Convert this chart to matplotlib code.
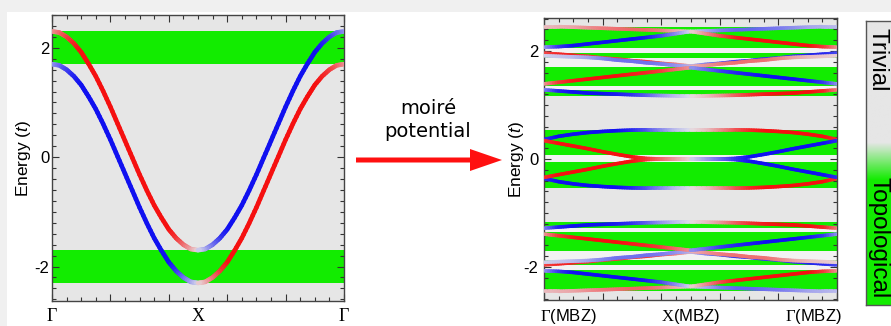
import numpy as np
import matplotlib
matplotlib.use("Agg")
import matplotlib.pyplot as plt
from matplotlib.collections import LineCollection
from matplotlib.colors import LinearSegmentedColormap, to_rgb
from matplotlib.patches import Rectangle, FancyArrow
from matplotlib.ticker import MultipleLocator, FixedLocator

plt.rcParams['font.family'] = ['Liberation Sans', 'DejaVu Sans']
plt.rcParams['mathtext.fontset'] = 'custom'
plt.rcParams['mathtext.rm'] = 'Liberation Serif'
plt.rcParams['mathtext.it'] = 'Liberation Sans:italic'
plt.rcParams['axes.unicode_minus'] = False

# =========================
# DATA
# =========================
# left panel: half path Gamma -> X (0 .. 0.5), 21 samples
k_half = np.linspace(0, 0.5, 21)
band_upper = [2.30, 2.28, 2.20, 2.08, 1.92, 1.71, 1.48, 1.21, 0.92, 0.61, 0.30,
              -0.01, -0.32, -0.61, -0.88, -1.11, -1.32, -1.48, -1.60, -1.68, -1.70]
band_lower = [1.70, 1.68, 1.60, 1.48, 1.32, 1.11, 0.88, 0.61, 0.32, 0.01, -0.30,
              -0.61, -0.92, -1.21, -1.48, -1.71, -1.92, -2.08, -2.20, -2.28, -2.30]
spin_weight = [0.35, 0.55, 0.75, 0.9, 1, 1, 1, 1, 1, 1, 1,
               1, 1, 1, 1, 1, 1, 0.85, 0.6, 0.35, 0.1]
topo_left = [(1.7, 2.3), (-2.3, -1.7)]

# right panel: half path Gamma(MBZ) -> X(MBZ), 11 samples
k_mbz = np.linspace(0, 0.5, 11)
mbz_a = [2.45, 2.45, 2.44, 2.43, 2.42, 2.41, 2.40, 2.39, 2.38, 2.37, 2.36]
mbz_b = [2.07, 2.08, 2.10, 2.13, 2.16, 2.19, 2.22, 2.25, 2.28, 2.32, 2.36]
mbz_c = [1.96, 1.94, 1.92, 1.90, 1.87, 1.85, 1.82, 1.80, 1.77, 1.75, 1.72]
mbz_d = [1.91, 1.90, 1.89, 1.88, 1.86, 1.83, 1.81, 1.78, 1.76, 1.73, 1.71]
mbz_e = [1.39, 1.42, 1.45, 1.48, 1.51, 1.54, 1.57, 1.60, 1.63, 1.66, 1.69]
mbz_f = [1.28, 1.26, 1.24, 1.22, 1.21, 1.20, 1.19, 1.18, 1.175, 1.17, 1.17]
mbz_g = [0.36, 0.42, 0.46, 0.49, 0.51, 0.525, 0.535, 0.54, 0.54, 0.54, 0.54]
mbz_h = [0.34, 0.29, 0.24, 0.19, 0.135, 0.085, 0.04, 0.01, 0.0, 0.0, 0.0]

w_a = [0.2, 0.25, 0.3, 0.4, 0.5, 0.55, 0.6, 0.6, 0.5, 0.3, 0.1]
w_b = [0.35, 0.8, 1, 1, 1, 1, 1, 0.95, 0.75, 0.45, 0.1]
w_c = [0.7, 0.9, 0.9, 0.85, 0.75, 0.8, 0.8, 0.8, 0.7, 0.5, 0.25]
w_d = [0.1, 0.15, 0.2, 0.3, 0.45, 0.55, 0.55, 0.55, 0.5, 0.4, 0.25]
w_e = [0.35, 0.8, 0.95, 1, 1, 1, 0.95, 0.9, 0.8, 0.6, 0.4]
w_f = [0.45, 0.9, 1, 1, 1, 0.95, 0.85, 0.65, 0.4, 0.2, 0.05]
w_g = [0.85, 1, 1, 1, 1, 1, 0.9, 0.7, 0.45, 0.2, 0.05]
w_h = [0.85, 1, 1, 1, 1, 1, 1, 0.85, 0.6, 0.35, 0.1]

# (energies, weights, spin) ; spin +1 = red, -1 = blue on the Gamma->X half
mbz_lines = [(mbz_a, w_a, 1), (mbz_b, w_b, -1), (mbz_c, w_c, 1), (mbz_d, w_d, -1),
             (mbz_e, w_e, 1), (mbz_f, w_f, -1), (mbz_g, w_g, -1), (mbz_h, w_h, 1)]

green_lo = [2.06, 1.87, 1.36, 1.17, 0.07, -0.54, -1.28, -1.70, -1.96, -2.44]
green_hi = [2.44, 1.96, 1.70, 1.28, 0.54, -0.06, -1.17, -1.36, -1.87, -2.06]
gap_lo = [1.96, 1.70, 1.28, -0.06, -1.36, -1.87, -2.06]
gap_hi = [2.06, 1.87, 1.36, 0.07, -1.28, -1.70, -1.96]

# =========================
# STYLE
# =========================
GREEN = '#12ec00'
GRAY = '#e6e6e6'
GAP = '#f2f2f2'
RED = np.array(to_rgb('#f51010'))
BLUE = np.array(to_rgb('#1010f0'))
NEUTRAL = np.array([0.90, 0.90, 0.92])


def draw_graded(ax, x, y, w, rgb, lw, nsub=6):
    x = np.asarray(x, float)
    y = np.asarray(y, float)
    w = np.asarray(w, float)
    segs, cols = [], []
    for i in range(len(x) - 1):
        for j in range(nsub):
            t0, t1 = j / nsub, (j + 1) / nsub
            p0 = (x[i] + (x[i + 1] - x[i]) * t0, y[i] + (y[i + 1] - y[i]) * t0)
            p1 = (x[i] + (x[i + 1] - x[i]) * t1, y[i] + (y[i + 1] - y[i]) * t1)
            wm = w[i] + (w[i + 1] - w[i]) * (t0 + t1) / 2
            segs.append([p0, p1])
            cols.append(NEUTRAL * (1 - wm) + rgb * wm)
    ax.add_collection(LineCollection(segs, colors=cols, linewidths=lw,
                                     capstyle='round', zorder=3))


def style_axes(ax, ylim):
    ax.set_facecolor(GRAY)
    ax.set_xlim(0, 1)
    ax.set_ylim(*ylim)
    ax.xaxis.set_major_locator(MultipleLocator(0.2))
    ax.xaxis.set_minor_locator(MultipleLocator(0.05))
    ax.yaxis.set_major_locator(FixedLocator([-2, 0, 2]))
    ax.yaxis.set_minor_locator(MultipleLocator(0.2))
    ax.tick_params(which='both', direction='in', top=True, right=True,
                   color='#333333', width=0.8, labelbottom=False, labelsize=12)
    ax.tick_params(which='major', length=5)
    ax.tick_params(which='minor', length=3)
    for sp in ax.spines.values():
        sp.set_color('#444444')
        sp.set_linewidth(1.0)


# =========================
# FIGURE
# =========================
fig = plt.figure(figsize=(8.91, 3.26), dpi=100)
fig.patch.set_facecolor('#f0f0f0')

bg = fig.add_axes([0, 0, 1, 1], zorder=-1)
bg.set_xlim(0, 891)
bg.set_ylim(326, 0)
bg.axis('off')
bg.add_patch(Rectangle((7, 12), 884, 314, facecolor='white', edgecolor='none'))
bg.add_patch(FancyArrow(356, 160, 146, 0, width=5, head_width=22, head_length=32,
                        length_includes_head=True, color='#ff1010', linewidth=0))
bg.text(428, 114, 'moiré', ha='center', va='baseline', fontsize=14, family='DejaVu Sans')
bg.text(428, 137, 'potential', ha='center', va='baseline', fontsize=14, family='DejaVu Sans')

# ---- left panel
ax1 = fig.add_axes([52 / 891, 25 / 326, 292 / 891, 286 / 326])
style_axes(ax1, (-2.63, 2.6))
for lo, hi in topo_left:
    ax1.axhspan(lo, hi, color=GREEN, lw=0, zorder=1)

draw_graded(ax1, k_half, band_upper, spin_weight, RED, 3.3, nsub=4)
draw_graded(ax1, k_half, band_lower, spin_weight, BLUE, 3.3, nsub=4)
draw_graded(ax1, 1 - k_half, band_lower, spin_weight, RED, 3.3, nsub=4)
draw_graded(ax1, 1 - k_half, band_upper, spin_weight, BLUE, 3.3, nsub=4)

ax1.set_ylabel('Energy ($t$)', fontsize=12.5, labelpad=1)
ax1.tick_params(axis='y', pad=2)
xt = ax1.get_xaxis_transform()
ax1.text(0, -0.025, r'$\Gamma$', transform=xt, ha='center', va='top', fontsize=13)
ax1.text(0.5, -0.025, r'$\mathrm{X}$', transform=xt, ha='center', va='top', fontsize=13)
ax1.text(1, -0.025, r'$\Gamma$', transform=xt, ha='center', va='top', fontsize=13)

# ---- right panel
ax2 = fig.add_axes([544 / 891, 26 / 326, 293 / 891, 282 / 326])
style_axes(ax2, (-2.61, 2.61))
for lo, hi in zip(green_lo, green_hi):
    ax2.axhspan(lo, hi, color=GREEN, lw=0, zorder=1)
for lo, hi in zip(gap_lo, gap_hi):
    ax2.axhspan(lo, hi, color=GAP, lw=0, zorder=1)

for energies, weights, spin in mbz_lines:
    col_left = RED if spin > 0 else BLUE
    col_right = BLUE if spin > 0 else RED
    for sign in (1, -1):
        ev = [sign * e for e in energies]
        draw_graded(ax2, k_mbz, ev, weights, col_left, 2.6)
        draw_graded(ax2, 1 - k_mbz, ev, weights, col_right, 2.6)

ax2.set_ylabel('Energy ($t$)', fontsize=12.5, labelpad=-2)
ax2.tick_params(axis='y', pad=4)
xt2 = ax2.get_xaxis_transform()
ax2.text(-0.014, -0.025, r'$\Gamma$(MBZ)', transform=xt2, ha='left', va='top', fontsize=12)
ax2.text(0.5, -0.025, r'$\mathrm{X}$(MBZ)', transform=xt2, ha='center', va='top', fontsize=12)
ax2.text(1.017, -0.025, r'$\Gamma$(MBZ)', transform=xt2, ha='right', va='top', fontsize=12)

# ---- colour legend bar
cax = fig.add_axes([866 / 891, 21 / 326, 40 / 891, 284 / 326])
cmap = LinearSegmentedColormap.from_list(
    'topo', [(0, GREEN), (0.44, GREEN), (0.572, GRAY), (1, GRAY)])
cax.imshow(np.linspace(0, 1, 256)[:, None], aspect='auto', cmap=cmap,
           extent=[0, 1, 0, 1], origin='lower')
cax.set_xticks([])
cax.set_yticks([])
for sp in cax.spines.values():
    sp.set_color('#555555')
    sp.set_linewidth(1.0)

fig.text(872 / 891, 1 - 28 / 326, 'Trivial', rotation=-90, rotation_mode='anchor',
         ha='left', va='baseline', fontsize=17.5)
fig.text(872 / 891, 1 - 177 / 326, 'Topological', rotation=-90, rotation_mode='anchor',
         ha='left', va='baseline', fontsize=17.5)

fig.savefig('out.png', dpi=100, facecolor=fig.get_facecolor())
